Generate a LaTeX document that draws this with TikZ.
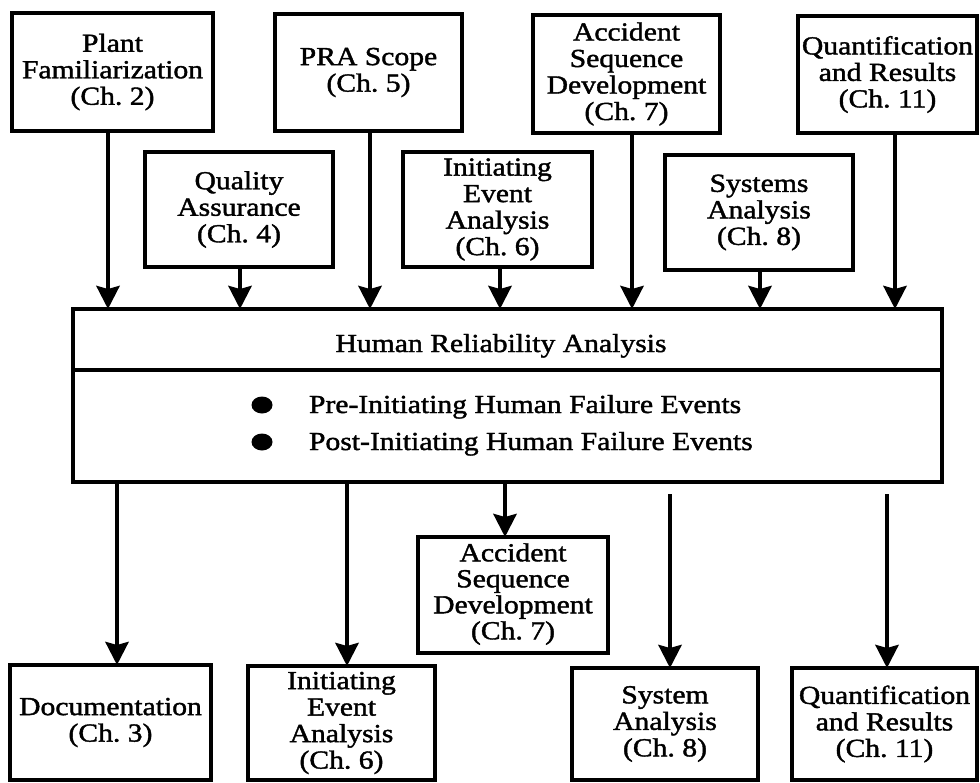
\documentclass[tikz,border=0pt]{standalone}
\usepackage{fontspec}
\setmainfont{Liberation Serif}[FakeStretch=1.14,FakeBold=1.5]
\usetikzlibrary{arrows.meta,shapes.geometric,calc}

\begin{document}
\begin{tikzpicture}[x=1pt,y=-1pt,
  every node/.style={inner sep=0pt, outer sep=0pt},
  txt/.style={font=\fontsize{26}{26.5}\selectfont, align=center},
  box/.style={txt, draw, line width=3.8pt, minimum width=#1},
  arr/.style={line width=4.5pt, -{Stealth[length=23pt,width=23pt,inset=3pt]}},
  bullet/.style={ellipse, fill=black, minimum width=21pt, minimum height=17pt}
]
\useasboundingbox (0,0) rectangle (980,782);

% inputs to the HRA
\node[box=201pt, minimum height=118pt] (plant) at (112.5,72) {Plant\\Familiarization\\(Ch.~2)};
\node[box=187pt, minimum height=117pt] (pra)   at (368.5,72.5) {PRA Scope\\(Ch.~5)};
\node[box=187pt, minimum height=118pt] (asdt)  at (626.5,74) {Accident\\Sequence\\Development\\(Ch.~7)};
\node[box=179pt, minimum height=117pt] (qrt)   at (887.5,74.5) {Quantification\\and Results\\(Ch.~11)};
\node[box=188pt, minimum height=115pt] (qa)    at (239,209.5) {Quality\\Assurance\\(Ch.~4)};
\node[box=189pt, minimum height=115pt] (iet)   at (497.5,209.5) {Initiating\\Event\\Analysis\\(Ch.~6)};
\node[box=188pt, minimum height=115pt] (sys)   at (759,212.5) {Systems\\Analysis\\(Ch.~8)};

% the HRA itself
\node[draw, line width=3.8pt, minimum width=869pt, minimum height=173pt] (main) at (507.5,395.5) {};
\draw[line width=3.8pt] (main.west |- 0,370) -- (main.east |- 0,370);
\node[txt, anchor=base] (title) at (501,352) {Human Reliability Analysis};
\node[bullet] (b1) at (262,405) {};
\node[bullet] (b2) at (262,442) {};
\node[txt, anchor=base west] (pre)  at (309,413) {Pre-Initiating Human Failure Events};
\node[txt, anchor=base west] (post) at (309,450) {Post-Initiating Human Failure Events};

% outputs of the HRA
\node[box=201pt, minimum height=115pt] (doc)  at (110.5,722.5) {Documentation\\(Ch.~3)};
\node[box=187pt, minimum height=114pt] (ieb)  at (341.5,723) {Initiating\\Event\\Analysis\\(Ch.~6)};
\node[box=190pt, minimum height=116pt] (asdb) at (513,595) {\raisebox{-4pt}{\begin{tabular}{@{}c@{}}Accident\\[-0.5pt]Sequence\\[-0.5pt]Development\\[-0.5pt](Ch.~7)\end{tabular}}};
\node[box=186pt, minimum height=112pt] (sysb) at (665,724) {System\\Analysis\\(Ch.~8)};
\node[box=185pt, minimum height=112pt] (qrb)  at (884.5,724) {Quantification\\and Results\\(Ch.~11)};

% arrows into the HRA
\draw[arr] ([xshift=-4.5pt]plant.south) -- ([xshift=-4.5pt]plant.south |- main.north);
\draw[arr] ([xshift=1pt]qa.south) -- ([xshift=1pt]qa.south |- main.north);
\draw[arr] ([xshift=1.5pt]pra.south) -- ([xshift=1.5pt]pra.south |- main.north);
\draw[arr] ([xshift=2.5pt]iet.south) -- ([xshift=2.5pt]iet.south |- main.north);
\draw[arr] ([xshift=5.5pt]asdt.south) -- ([xshift=5.5pt]asdt.south |- main.north);
\draw[arr] ([xshift=1pt]sys.south) -- ([xshift=1pt]sys.south |- main.north);
\draw[arr] ([xshift=7.5pt]qrt.south) -- ([xshift=7.5pt]qrt.south |- main.north);

% arrows out of the HRA
\coordinate (o1) at ([xshift=6.5pt]doc.north);
\coordinate (o2) at ([xshift=5.5pt]ieb.north);
\coordinate (o3) at ([xshift=-8pt]asdb.north);
\coordinate (o4) at ([xshift=5pt]sysb.north);
\coordinate (o5) at ([xshift=2.5pt]qrb.north);
\draw[arr] (o1 |- main.south) -- (o1);
\draw[arr] (o2 |- main.south) -- (o2);
\draw[arr] (o3 |- main.south) -- (o3);
\draw[arr] ($(o4 |- main.south)+(0,12)$) -- (o4);
\draw[arr] ($(o5 |- main.south)+(0,12)$) -- (o5);
\end{tikzpicture}
\end{document}
